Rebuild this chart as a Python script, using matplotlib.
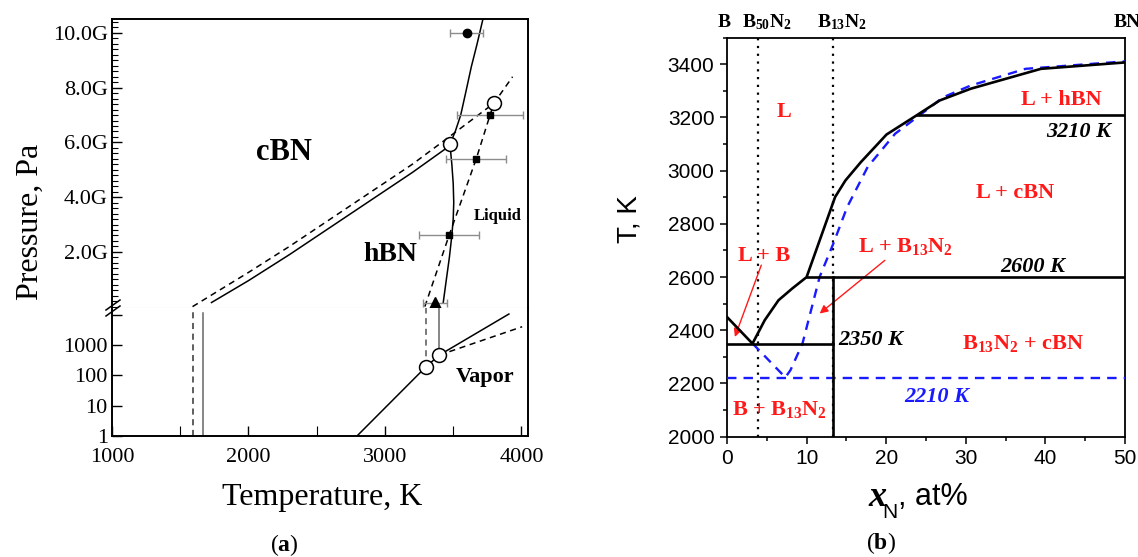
import matplotlib

matplotlib.use("Agg")
import matplotlib.pyplot as plt  # noqa: E402
from matplotlib.lines import Line2D  # noqa: E402
from matplotlib.ticker import FixedLocator, LogLocator, MultipleLocator, NullFormatter  # noqa: E402

plt.rcParams["mathtext.fontset"] = "custom"
plt.rcParams["mathtext.rm"] = "Liberation Serif"
plt.rcParams["mathtext.bf"] = "Liberation Serif:bold"
plt.rcParams["mathtext.it"] = "Liberation Serif:italic"

SERIF = "Liberation Serif"
SANS = "Liberation Sans"
W, H = 1138, 557

# ---- panel (a): P-T diagram, upper part in GPa, lower part in Pa ----
hc_solid_t = [1729, 2000, 2300, 2600, 2900, 3200, 3450]
hc_solid_p = [0.15, 0.95, 1.90, 2.90, 3.90, 4.90, 5.79]
hc_dash_t = [1590, 2000, 2300, 2600, 2900, 3200, 3424, 3798]
hc_dash_p = [0.00, 1.25, 2.20, 3.20, 4.20, 5.20, 6.03, 7.43]
melt_solid_t = [3718, 3675, 3633, 3595, 3555, 3515, 3476, 3490, 3500, 3504, 3500, 3490,
                3472, 3450, 3427]
melt_solid_p = [10.51, 9.60, 8.77, 7.90, 7.00, 6.40, 5.93, 5.20, 4.50, 3.80, 3.20, 2.60,
                1.80, 1.00, 0.15]
melt_dash_t = [3292, 3471, 3668, 3770, 3798, 3935]
melt_dash_p = [0.00, 2.62, 5.39, 7.00, 7.43, 8.40]
triple_t = [3476, 3798]
triple_p = [5.93, 7.43]
exp_circle = (3600, 10.0, 120)
exp_square_t = [3471, 3668, 3770]
exp_square_p = [2.62, 5.39, 7.00]
exp_square_err = [220, 220, 245]
exp_tri = (3368, 0.14, 88)

vap_solid_t = [2795, 3300, 3398, 3908]
vap_solid_p = [1, 190, 465, 10500]
vap_dash_t = [3398, 4005]
vap_dash_p = [465, 4000]
vap_circle_t = [3300, 3398]
vap_circle_p = [190, 465]
low_dash_x = [1591, 3300]
low_solid_x = [1665, 3398]

upper_ticks = [2, 4, 6, 8, 10]
upper_labels = ["2.0G", "4.0G", "6.0G", "8.0G", "10.0G"]
lower_ticks = [1, 10, 100, 1000]
lower_labels = ["1", "10", "100", "1000"]
t_ticks = [1000, 2000, 3000, 4000]

# ---- panel (b): B-N phase diagram ----
liq_x = [0, 3.2, 4.74, 6.47, 8.19, 10.0, 13.58, 14.87, 16.81, 20.04, 23.92, 26.72, 30.6, 39.44, 50]
liq_t = [2450, 2350, 2438, 2513, 2557, 2600, 2901, 2963, 3032, 3136, 3210, 3264, 3308, 3383, 3407]
calc_x = [3.23, 6.03, 7.33, 7.97, 9.48, 10.78, 11.64, 13.36, 15.09, 17.67, 21.12, 24.14, 27.16,
          30.6, 37.5, 50]
calc_t = [2350, 2263, 2223, 2250, 2350, 2501, 2601, 2726, 2863, 3014, 3139, 3207, 3276,
          3320, 3383, 3411]
iso_t = [3210, 2600, 2350]
iso_x0 = [23.92, 10.0, 0]
iso_x1 = [50, 50, 13.33]
calc_eut = 2220
compound_x = [3.85, 13.33]


def fig_box(left, top, right, bottom):
    return [left / W, 1 - bottom / H, (right - left) / W, (bottom - top) / H]


fig = plt.figure(figsize=(W / 100, H / 100), dpi=100)
ax_up = fig.add_axes(fig_box(112, 19, 528, 308))
ax_lo = fig.add_axes(fig_box(112, 308, 528, 436))
ax_b = fig.add_axes(fig_box(727, 37.7, 1125, 436.7))

dash = (0, (4, 3))
for axis in (ax_up, ax_lo):
    axis.set_xlim(1000, 4048)
    for spine in axis.spines.values():
        spine.set_linewidth(1.4)
ax_up.spines["bottom"].set_visible(False)
ax_lo.spines["top"].set_visible(False)

# upper (GPa) part
ax_up.set_ylim(-0.05, 10.51)
ax_up.plot(hc_solid_t, hc_solid_p, color="black", lw=1.1)
ax_up.plot(hc_dash_t, hc_dash_p, color="black", lw=1.1, ls=dash)
ax_up.plot(melt_solid_t, melt_solid_p, color="black", lw=1.1)
ax_up.plot(melt_dash_t, melt_dash_p, color="black", lw=1.1, ls=dash)
err_kw = dict(fmt="none", ecolor="#8c8c8c", elinewidth=1, capsize=3)
ax_up.errorbar(exp_circle[0], exp_circle[1], xerr=exp_circle[2], **err_kw)
ax_up.errorbar(exp_square_t, exp_square_p, xerr=exp_square_err, **err_kw)
ax_up.errorbar(exp_tri[0], exp_tri[1], xerr=exp_tri[2], clip_on=False, **err_kw)
ax_up.plot(exp_circle[0], exp_circle[1], "o", color="black", ms=6)
ax_up.plot(exp_square_t, exp_square_p, "s", color="black", ms=5)
ax_up.plot(exp_tri[0], exp_tri[1], "^", color="black", ms=9, clip_on=False, zorder=5)
ax_up.plot(triple_t, triple_p, "o", mfc="white", mec="black", ms=10, mew=1.1, zorder=5)
ax_up.axhline(-0.05, color="#999999", lw=0.8, ls=(0, (1, 1.5)), clip_on=False)

ax_up.set_yticks(upper_ticks)
ax_up.set_yticklabels(upper_labels, fontfamily=SERIF, fontsize=16)
ax_up.yaxis.set_minor_locator(MultipleLocator(0.2))
ax_up.set_xticks([])
ax_up.tick_params(axis="y", which="both", direction="in", right=False, pad=3)
ax_up.tick_params(axis="y", which="major", length=7, width=1)
ax_up.tick_params(axis="y", which="minor", length=4, width=0.8)

ax_up.text(2260, 5.65, "cBN", fontfamily=SERIF, fontweight="bold", fontsize=22,
           ha="center", va="center")
ax_up.text(3040, 1.9, "hBN", fontfamily=SERIF, fontweight="bold", fontsize=20,
           ha="center", va="center")
ax_up.text(3825, 3.32, "Liquid", fontfamily=SERIF, fontweight="bold", fontsize=12,
           ha="center", va="center")

# lower (Pa) part
ax_lo.set_yscale("log")
ax_lo.set_ylim(1, 16600)
ax_lo.plot(vap_solid_t, vap_solid_p, color="black", lw=1.1)
ax_lo.plot(vap_dash_t, vap_dash_p, color="black", lw=1.1, ls=dash)
ax_lo.plot([low_dash_x[0]] * 2, [1, 16600], color="#333333", lw=1.1, ls=dash)
ax_lo.plot([low_dash_x[1]] * 2, [vap_circle_p[0], 16600], color="#555555", lw=1.1, ls=dash)
ax_lo.plot([low_solid_x[0]] * 2, [1, 11500], color="#666666", lw=1.1)
ax_lo.plot([low_solid_x[1]] * 2, [vap_circle_p[1], 16600], color="#666666", lw=1.1)
ax_lo.plot(vap_circle_t, vap_circle_p, "o", mfc="white", mec="black", ms=10, mew=1.1,
           zorder=5)
ax_lo.text(3730, 90, "Vapor", fontfamily=SERIF, fontweight="bold", fontsize=16,
           ha="center", va="center")

ax_lo.yaxis.set_major_locator(FixedLocator(lower_ticks + [10000]))
ax_lo.set_yticklabels(lower_labels + [""], fontfamily=SERIF, fontsize=16)
ax_lo.yaxis.set_minor_locator(LogLocator(base=10, subs=range(2, 10)))
ax_lo.yaxis.set_minor_formatter(NullFormatter())
ax_lo.set_xticks(t_ticks)
ax_lo.set_xticklabels([str(t) for t in t_ticks], fontfamily=SERIF, fontsize=16)
ax_lo.xaxis.set_minor_locator(MultipleLocator(500))
ax_lo.tick_params(which="both", direction="in", right=False, top=False, pad=3)
ax_lo.tick_params(which="major", length=7, width=1)
ax_lo.tick_params(which="minor", length=4, width=0.8)
ax_lo.tick_params(axis="x", which="both", length=7, pad=9)

# axis break marks
for dy in (-3, 3):
    fig.add_artist(Line2D([106 / W, 120 / W], [1 - (313 + dy) / H, 1 - (303 + dy) / H],
                          color="black", lw=1.1))

fig.text(322 / W, 1 - 497 / H, "Temperature, K", fontfamily=SERIF, fontsize=23,
         ha="center", va="center")
fig.text(30 / W, 1 - 222 / H, "Pressure, Pa", fontfamily=SERIF, fontsize=23,
         ha="center", va="center", rotation=90)
fig.text(284 / W, 1 - 545 / H, r"($\mathbf{a}$)", fontfamily=SERIF, fontsize=17,
         ha="center", va="center")

# ---- panel (b) ----
red = "#ff1a1a"
blue = "#1a1aff"
ax_b.set_xlim(0, 50)
ax_b.set_ylim(2000, 3500)
for spine in ax_b.spines.values():
    spine.set_linewidth(1.3)
for x in compound_x:
    ax_b.axvline(x, color="black", lw=1.6, ls=(0, (1, 2.5)))
ax_b.plot(liq_x, liq_t, color="black", lw=1.9, zorder=4)
for t, x0, x1 in zip(iso_t, iso_x0, iso_x1):
    ax_b.plot([x0, x1], [t, t], color="black", lw=1.9, zorder=4)
ax_b.plot([compound_x[1], compound_x[1]], [2000, iso_t[1]], color="black", lw=1.9, zorder=4)
ax_b.plot(calc_x, calc_t, color=blue, lw=1.7, ls=(0, (4, 3)), zorder=3)
ax_b.axhline(calc_eut, color=blue, lw=1.7, ls=(0, (4, 3)), zorder=3)

arrow_kw = dict(arrowstyle="-|>", color=red, lw=1.0, mutation_scale=12, shrinkA=0,
                shrinkB=0)
ax_b.annotate("", xy=(0.99, 2375), xytext=(4.31, 2645), arrowprops=arrow_kw)
ax_b.annotate("", xy=(11.64, 2463), xytext=(19.83, 2663), arrowprops=arrow_kw)

red_kw = dict(fontfamily=SERIF, fontweight="bold", fontsize=16, color=red,
              ha="center", va="center")
ax_b.text(7.2, 3220, "L", **red_kw)
ax_b.text(42.0, 3267, "L + hBN", **red_kw)
ax_b.text(36.2, 2916, "L + cBN", **red_kw)
ax_b.text(22.4, 2715, r"L + B$_{\mathbf{13}}$N$_{\mathbf{2}}$", **red_kw)
ax_b.text(4.66, 2678, "L + B", **red_kw)
ax_b.text(37.2, 2352, r"B$_{\mathbf{13}}$N$_{\mathbf{2}}$ + cBN", **red_kw)
ax_b.text(6.55, 2102, r"B + B$_{\mathbf{13}}$N$_{\mathbf{2}}$", **red_kw)

iso_kw = dict(fontfamily=SERIF, fontweight="bold", fontstyle="italic", fontsize=16,
              ha="center", va="center")
ax_b.text(44.2, 3145, "3210 K", color="black", **iso_kw)
ax_b.text(38.4, 2638, "2600 K", color="black", **iso_kw)
ax_b.text(18.0, 2363, "2350 K", color="black", **iso_kw)
ax_b.text(26.3, 2148, "2210 K", color=blue, **iso_kw)

top_kw = dict(fontfamily=SERIF, fontweight="bold", fontsize=14, ha="center",
              va="baseline", clip_on=False)
ax_b.text(-0.4, 3540, "B", **top_kw)
ax_b.text(5.0, 3540, r"B$_{\mathbf{50}}$N$_{\mathbf{2}}$", **top_kw)
ax_b.text(14.4, 3540, r"B$_{\mathbf{13}}$N$_{\mathbf{2}}$", **top_kw)
ax_b.text(50.3, 3540, "BN", **top_kw)

ax_b.xaxis.set_major_locator(MultipleLocator(10))
ax_b.xaxis.set_minor_locator(MultipleLocator(5))
ax_b.yaxis.set_major_locator(MultipleLocator(200))
ax_b.yaxis.set_minor_locator(MultipleLocator(100))
ax_b.tick_params(which="both", direction="out", top=False, right=False, width=1.1)
ax_b.tick_params(which="major", length=5, labelsize=15, pad=4)
ax_b.tick_params(which="minor", length=3)
for label in ax_b.get_xticklabels() + ax_b.get_yticklabels():
    label.set_fontfamily(SANS)

fig.text(630 / W, 1 - 219 / H, "T, K", fontfamily=SANS, fontsize=20, ha="center",
         va="center", rotation=90)
fig.text(878 / W, 1 - 498 / H, "x", fontfamily=SERIF, fontweight="bold",
         fontstyle="italic", fontsize=26, ha="center", va="center")
fig.text(890 / W, 1 - 512 / H, "N", fontfamily=SANS, fontsize=15, ha="center",
         va="center")
fig.text(898 / W, 1 - 497 / H, ", at%", fontfamily=SANS, fontsize=22, ha="left",
         va="center")
fig.text(881 / W, 1 - 543 / H, r"($\mathbf{b}$)", fontfamily=SERIF, fontsize=17,
         ha="center", va="center")

fig.savefig("out.png", dpi=100)
